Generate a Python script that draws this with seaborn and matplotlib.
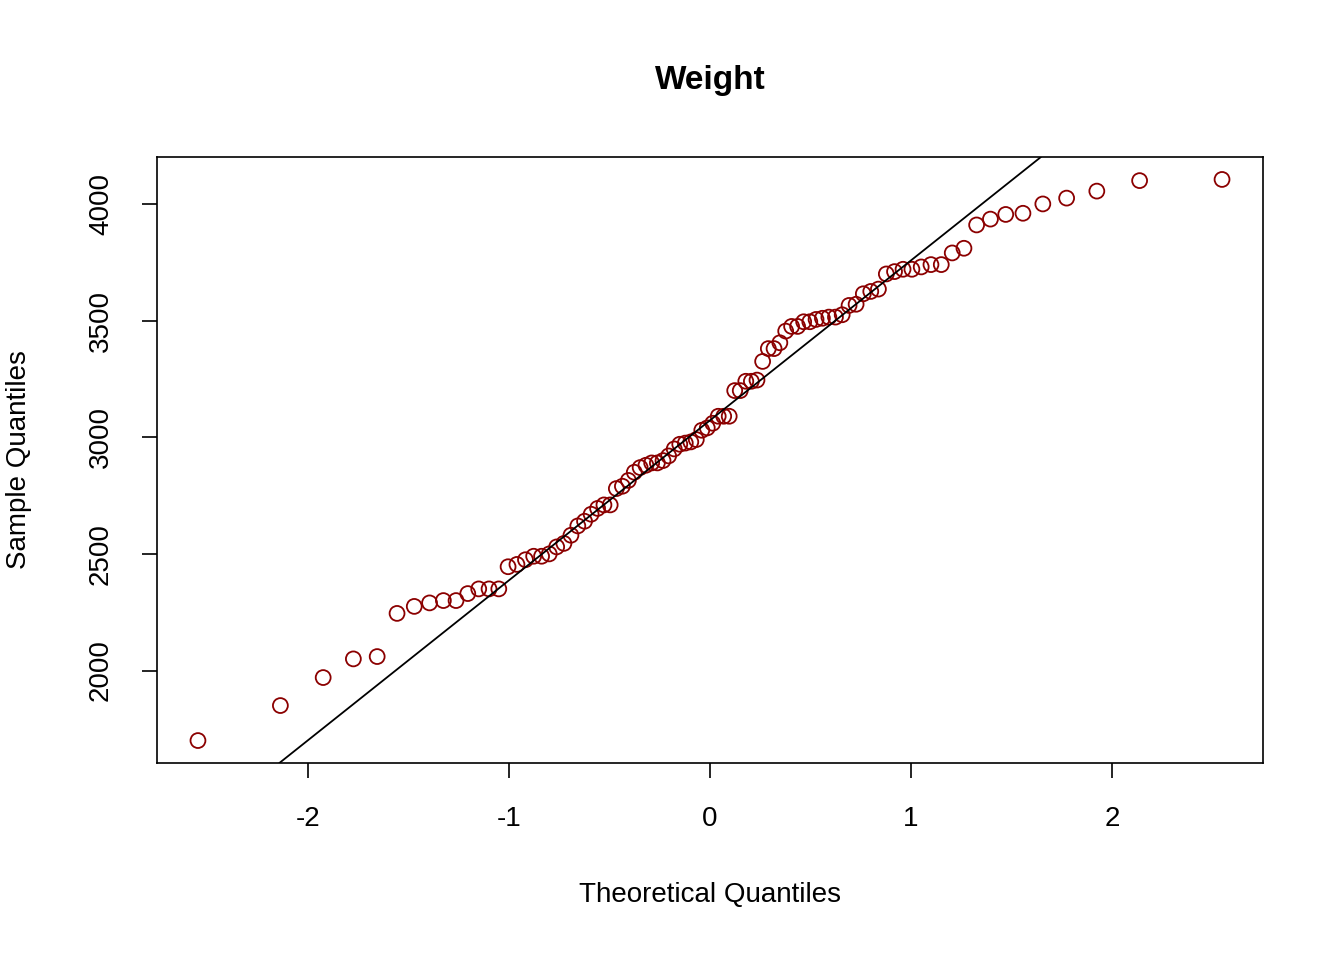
import matplotlib
matplotlib.use("Agg")
import matplotlib.pyplot as plt
import seaborn as sns
import numpy as np
import pandas as pd
from statistics import NormalDist

sample = [1700,1850,1970,2050,2060,2245,2275,2290,2300,2300,
          2330,2350,2350,2350,2445,2455,2475,2490,2490,2500,
          2530,2545,2580,2620,2640,2670,2695,2710,2710,2780,
          2790,2815,2850,2870,2880,2890,2890,2900,2920,2950,
          2970,2975,2980,2990,3030,3040,3060,3090,3090,3090,
          3200,3200,3240,3240,3245,3325,3380,3380,3405,3455,
          3475,3475,3495,3495,3505,3510,3515,3515,3525,3565,
          3570,3615,3625,3635,3700,3710,3720,3720,3730,3740,
          3740,3790,3810,3910,3935,3955,3960,4000,4025,4055,
          4100,4105]
xticks = [-2, -1, 0, 1, 2]
yticks = [2000, 2500, 3000, 3500, 4000]

n = len(sample)
a = 3/8 if n <= 10 else 0.5
nd = NormalDist()
theo = [nd.inv_cdf((i + 1 - a) / (n + 1 - 2*a)) for i in range(n)]
df = pd.DataFrame({"theo": theo, "sample": sorted(sample)})

sns.set_style("white")
plt.rcParams['font.family'] = ['Liberation Sans', 'DejaVu Sans']
plt.rcParams['text.color'] = 'black'
plt.rcParams['axes.labelcolor'] = 'black'
plt.rcParams['xtick.color'] = 'black'
plt.rcParams['ytick.color'] = 'black'
fig = plt.figure(figsize=(13.44, 9.6), dpi=100)
ax = fig.add_axes([157/1344, 1-763/960, (1263-157)/1344, (763-157)/960])
sns.scatterplot(data=df, x="theo", y="sample", ax=ax, s=115, facecolor="none",
                edgecolor="#8B0000", linewidth=1.3, marker="o")

q1, q3 = np.quantile(df["sample"], [0.25, 0.75])
z1, z3 = nd.inv_cdf(0.25), nd.inv_cdf(0.75)
slope = (q3 - q1) / (z3 - z1)
inter = q1 - slope * z1
ax.axline((0, inter), slope=slope, color="black", lw=1.3)

xr = max(abs(t) for t in theo)
ax.set_xlim(-xr*1.08, xr*1.08)
yl, yh = min(sample), max(sample)
pad = (yh - yl) * 0.04
ax.set_ylim(yl - pad, yh + pad)
ax.set_xticks(xticks)
ax.set_xticklabels([str(t) for t in xticks])
ax.set_yticks(yticks)
ax.set_yticklabels([str(t) for t in yticks], rotation=90, va="center")
ax.tick_params(direction="out", length=11, width=1.2, labelsize=20, pad=20,
               bottom=True, left=True, color="black", labelcolor="black")
for s in ax.spines.values():
    s.set_color("black"); s.set_linewidth(1.2)
ax.set_xlabel("Theoretical Quantiles", fontsize=20, labelpad=36, color="black")
ax.set_ylabel("Sample Quantiles", fontsize=20, labelpad=40, color="black")
fig.text(710/1344, 1-80/960, "Weight", ha="center", va="center",
         fontsize=24, fontweight="bold", color="black")
fig.savefig("out.png", dpi=100)
